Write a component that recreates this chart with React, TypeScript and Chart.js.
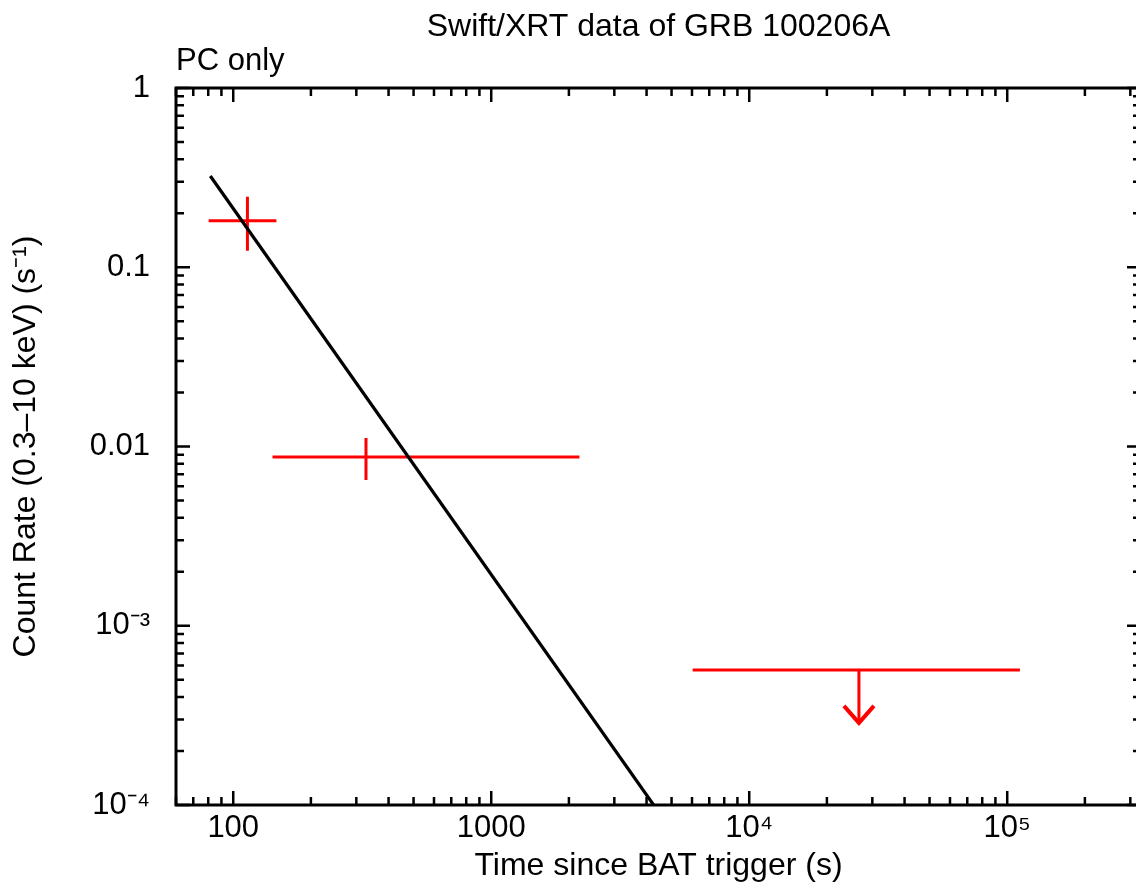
import React, { useEffect, useRef } from 'react';
import { Chart, registerables } from 'chart.js';

Chart.register(...registerables);

// ---- Data ----
// Detections: time (s), time range, count rate, rate error range
const detTimes = [113.5, 327];
const detTimeLow = [80.3, 142];
const detTimeHigh = [147, 2197];
const detRates = [0.182, 0.00873];
const detRateLow = [0.1237, 0.0065];
const detRateHigh = [0.2475, 0.01115];

// Upper limit
const limTimes = [26620];
const limTimeLow = [6036];
const limTimeHigh = [112000];
const limRates = [5.66e-4];
const limArrowTo = [2.87e-4];

// Power-law model line
const modelTimes = [81.5, 4260];
const modelRates = [0.323, 1.0e-4];

// Axes
const xMin = 60;
const xMax = 3.3e5;
const yMin = 1e-4;
const yMax = 1;
const xMajorTicks = [100, 1000, 10000, 100000];
const xTickLabels = ['100', '1000', '10⁴', '10⁵'];
const yMajorTicks = [1, 0.1, 0.01, 0.001, 0.0001];
const yTickLabels = ['1', '0.1', '0.01', '10⁻³', '10⁻⁴'];

const FONT = '"Liberation Sans", Arial, Helvetica, sans-serif';
const RED = '#ff0000';

function logTicks(min: number, max: number) {
  const res: { v: number; major: boolean }[] = [];
  const e0 = Math.floor(Math.log10(min));
  const e1 = Math.ceil(Math.log10(max));
  for (let e = e0; e <= e1; e++) {
    for (let m = 1; m <= 9; m++) {
      const v = m * Math.pow(10, e);
      if (v >= min * 0.999 && v <= max * 1.001) res.push({ v, major: m === 1 });
    }
  }
  return res;
}

const errorBarPlugin = {
  id: 'errorBars',
  beforeDatasetsDraw(chart: any) {
    const { ctx, chartArea, scales } = chart;
    const x = scales.x;
    const y = scales.y;
    ctx.save();
    ctx.beginPath();
    ctx.rect(chartArea.left, chartArea.top, chartArea.right - chartArea.left, chartArea.bottom - chartArea.top);
    ctx.clip();
    ctx.strokeStyle = RED;
    ctx.lineWidth = 3;
    ctx.lineCap = 'butt';
    chart.data.datasets.forEach((ds: any) => {
      if (ds.errKind === 'det') {
        ds.data.forEach((p: any) => {
          const px = x.getPixelForValue(p.x);
          const py = y.getPixelForValue(p.y);
          ctx.beginPath();
          ctx.moveTo(x.getPixelForValue(p.xMin), py);
          ctx.lineTo(x.getPixelForValue(p.xMax), py);
          ctx.moveTo(px, y.getPixelForValue(p.yMax));
          ctx.lineTo(px, y.getPixelForValue(p.yMin));
          ctx.stroke();
        });
      } else if (ds.errKind === 'lim') {
        ds.data.forEach((p: any) => {
          const px = x.getPixelForValue(p.x);
          const py = y.getPixelForValue(p.y);
          const tip = y.getPixelForValue(p.arrowTo);
          ctx.beginPath();
          ctx.moveTo(x.getPixelForValue(p.xMin), py);
          ctx.lineTo(x.getPixelForValue(p.xMax), py);
          ctx.moveTo(px, py);
          ctx.lineTo(px, tip);
          ctx.stroke();
          ctx.lineWidth = 4;
          ctx.beginPath();
          ctx.moveTo(px - 15, tip - 17);
          ctx.lineTo(px, tip);
          ctx.lineTo(px + 15, tip - 17);
          ctx.stroke();
          ctx.lineWidth = 3;
        });
      }
    });
    ctx.restore();
  },
};

const framePlugin = {
  id: 'frameTicks',
  afterDatasetsDraw(chart: any) {
    const { ctx, chartArea, scales } = chart;
    const { left, right, top, bottom } = chartArea;
    const x = scales.x;
    const y = scales.y;
    ctx.save();
    ctx.strokeStyle = '#000';
    ctx.lineWidth = 3;
    ctx.strokeRect(left, top, right - left, bottom - top);
    ctx.lineWidth = 2.5;
    ctx.beginPath();
    logTicks(x.min, x.max).forEach(({ v, major }) => {
      const px = x.getPixelForValue(v);
      const len = major ? 14 : 8;
      ctx.moveTo(px, bottom);
      ctx.lineTo(px, bottom - len);
      ctx.moveTo(px, top);
      ctx.lineTo(px, top + len);
    });
    logTicks(y.min, y.max).forEach(({ v, major }) => {
      const py = y.getPixelForValue(v);
      const len = major ? 14 : 8;
      ctx.moveTo(left, py);
      ctx.lineTo(left + len, py);
      ctx.moveTo(right, py);
      ctx.lineTo(right - len, py);
    });
    ctx.stroke();
    ctx.restore();
  },
};

export default function App() {
  const ref = useRef<HTMLCanvasElement>(null);

  useEffect(() => {
    const canvas = ref.current;
    if (!canvas) return;
    const chart = new Chart(canvas, {
      type: 'line',
      data: {
        datasets: [
          {
            type: 'scatter',
            label: 'PC detections',
            errKind: 'det',
            data: detTimes.map((t, i) => ({
              x: t,
              y: detRates[i],
              xMin: detTimeLow[i],
              xMax: detTimeHigh[i],
              yMin: detRateLow[i],
              yMax: detRateHigh[i],
            })),
            pointRadius: 0,
            borderColor: RED,
            backgroundColor: RED,
          } as any,
          {
            type: 'scatter',
            label: 'PC upper limit',
            errKind: 'lim',
            data: limTimes.map((t, i) => ({
              x: t,
              y: limRates[i],
              xMin: limTimeLow[i],
              xMax: limTimeHigh[i],
              arrowTo: limArrowTo[i],
            })),
            pointRadius: 0,
            borderColor: RED,
            backgroundColor: RED,
          } as any,
          {
            type: 'line',
            label: 'Model',
            data: modelTimes.map((t, i) => ({ x: t, y: modelRates[i] })),
            borderColor: '#000',
            borderWidth: 3.2,
            pointRadius: 0,
            fill: false,
            tension: 0,
          },
        ],
      },
      options: {
        animation: false,
        responsive: false,
        devicePixelRatio: 1,
        layout: { padding: { left: 0, right: 9, top: 0, bottom: 0 } },
        plugins: {
          legend: { display: false },
          tooltip: { enabled: false },
          title: {
            display: true,
            text: 'Swift/XRT data of GRB 100206A',
            fullSize: false,
            align: 'center',
            color: '#000',
            font: { family: FONT, size: 32, weight: 'normal', lineHeight: 1 },
            padding: { top: 11, bottom: 0 },
          },
          subtitle: {
            display: true,
            text: 'PC only',
            fullSize: false,
            align: 'start',
            color: '#000',
            font: { family: FONT, size: 31, weight: 'normal', lineHeight: 1 },
            padding: { top: 2.5, bottom: 11.5 },
          },
        },
        scales: {
          x: {
            type: 'logarithmic',
            position: 'bottom',
            min: xMin,
            max: xMax,
            grid: { display: false, drawTicks: false },
            border: { display: false },
            afterBuildTicks: (s: any) => {
              s.ticks = xMajorTicks.map((v) => ({ value: v }));
            },
            afterFit: (s: any) => {
              s.height = 83;
            },
            ticks: {
              color: '#000',
              font: { family: FONT, size: 31 },
              padding: 5,
              autoSkip: false,
              maxRotation: 0,
              minRotation: 0,
              callback: (_v: any, i: number) => xTickLabels[i],
            },
            title: {
              display: true,
              text: 'Time since BAT trigger (s)',
              color: '#000',
              font: { family: FONT, size: 32 },
              padding: { top: 0, bottom: 3 },
            },
          },
          y: {
            type: 'logarithmic',
            position: 'left',
            min: yMin,
            max: yMax,
            grid: { display: false, drawTicks: false },
            border: { display: false },
            afterBuildTicks: (s: any) => {
              s.ticks = yMajorTicks.map((v) => ({ value: v }));
            },
            afterFit: (s: any) => {
              s.width = 176;
            },
            ticks: {
              color: '#000',
              font: { family: FONT, size: 31 },
              padding: 26,
              autoSkip: false,
              callback: (_v: any, i: number) => yTickLabels[i],
            },
            title: {
              display: true,
              text: 'Count Rate (0.3–10 keV) (s⁻¹)',
              color: '#000',
              font: { family: FONT, size: 32 },
              padding: { top: 7, bottom: 0 },
            },
          },
        },
      } as any,
      plugins: [errorBarPlugin, framePlugin],
    });
    return () => chart.destroy();
  }, []);

  return (
    <div
      style={{
        position: 'absolute',
        left: 0,
        top: 0,
        width: 1136,
        height: 888,
        overflow: 'hidden',
        background: '#fff',
      }}
    >
      <canvas ref={ref} width={1150} height={888} style={{ display: 'block', width: 1150, height: 888 }} />
    </div>
  );
}
